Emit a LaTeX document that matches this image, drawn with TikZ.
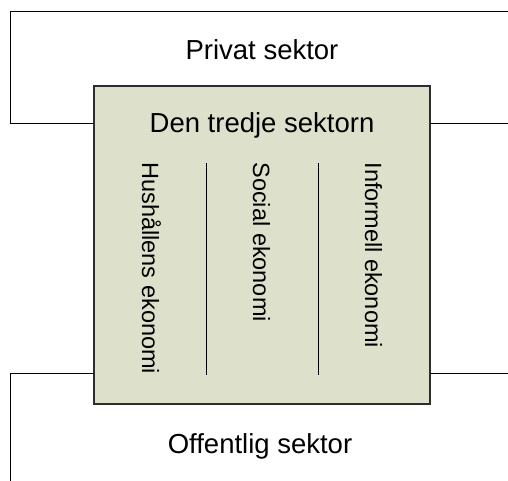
\documentclass[tikz,border=0pt]{standalone}
\usepackage{fontspec}
\setmainfont{Liberation Sans}
\usepackage{tikz}
\definecolor{box_green}{RGB}{221, 224, 203}
\definecolor{edge_grey}{RGB}{45, 45, 45}
\tikzstyle{sectorbox}=[rectangle,fill=box_green,draw=edge_grey,
  line width=1.5pt,inner sep=0pt,minimum width=336pt,minimum height=318pt]
\tikzstyle{sectortext}=[font=\fontsize{27.5}{33}\selectfont,anchor=base,inner sep=0pt]
\tikzstyle{colname}=[font=\fontsize{23.5}{28}\selectfont,anchor=base west,
  rotate=-90,inner sep=0pt]
\tikzstyle{none}=[]

\begin{document}
\begin{tikzpicture}[x=1pt, y=-1pt, line width=1pt]
    \useasboundingbox (0, 0) rectangle (508, 481);
    \node [style=sectorbox] (0) at (262, 245) {};
    \node [style=sectortext] (1) at (262, 60) {Privat sektor};
    \node [style=sectortext] (2) at (262, 133) {Den tredje sektorn};
    \node [style=sectortext] (3) at (260, 453) {Offentlig sektor};
    \node [style=colname] (4) at (142, 162) {Hushållens ekonomi};
    \node [style=colname] (5) at (253, 162) {Social ekonomi};
    \node [style=colname] (6) at (365, 162) {Informell ekonomi};
    \node [style=none] (7) at (508, 12) {};
    \node [style=none] (8) at (10, 12) {};
    \node [style=none] (9) at (10, 124) {};
    \node [style=none] (10) at (94, 124) {};
    \node [style=none] (11) at (430, 124) {};
    \node [style=none] (12) at (508, 124) {};
    \node [style=none] (13) at (94, 373) {};
    \node [style=none] (14) at (10, 373) {};
    \node [style=none] (15) at (10, 481) {};
    \node [style=none] (16) at (430, 373) {};
    \node [style=none] (17) at (508, 373) {};
    \node [style=none] (18) at (206, 163) {};
    \node [style=none] (19) at (206, 375) {};
    \node [style=none] (20) at (318, 163) {};
    \node [style=none] (21) at (318, 375) {};
    \draw (7.center) to (8.center);
    \draw (8.center) to (9.center);
    \draw (9.center) to (10.center);
    \draw (11.center) to (12.center);
    \draw (13.center) to (14.center);
    \draw (14.center) to (15.center);
    \draw (16.center) to (17.center);
    \draw (18.center) to (19.center);
    \draw (20.center) to (21.center);
\end{tikzpicture}
\end{document}
